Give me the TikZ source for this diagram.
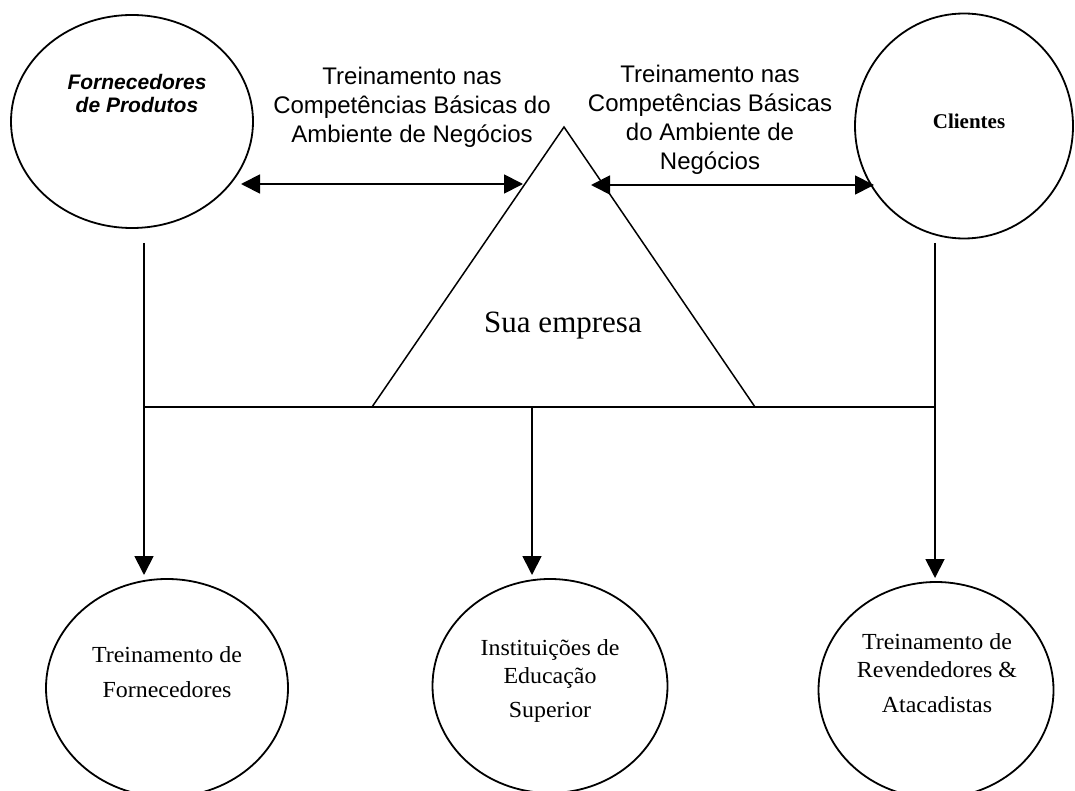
\documentclass[tikz,border=0pt]{standalone}
\usepackage{fontspec}
\setmainfont{Liberation Serif}
\newfontfamily\sansf{Liberation Sans}
\newfontfamily\serifwide[FakeStretch=1.04]{Liberation Serif}
\usetikzlibrary{shapes.geometric,arrows.meta}

\begin{document}
\begin{tikzpicture}[x=1pt,y=-1pt,line width=1.8pt,
  bubble/.style={draw,ellipse,inner sep=0pt},
  lbl/.style={align=center,inner sep=0pt},
  headtip/.style={-{Triangle[length=19pt,width=19pt]}},
  bothtips/.style={{Triangle[length=19pt,width=19pt]}-{Triangle[length=19pt,width=19pt]}},
  bottomtext/.style={lbl,font=\serifwide\fontsize{23}{28}\selectfont},
  arrowtext/.style={lbl,font=\sansf\fontsize{24}{29}\selectfont}]
\useasboundingbox (0,0) rectangle (1075,791);

% outer partners
\node[bubble,minimum width=242pt,minimum height=213pt] (forn) at (132,121.5) {};
\node[bubble,minimum width=218pt,minimum height=225pt] (cli) at (964,126) {};
\node[lbl,font=\sansf\bfseries\itshape\fontsize{21}{23}\selectfont] (fornT) at (137,94) {Fornecedores\\de Produtos};
\node[lbl,font=\bfseries\fontsize{21}{21}\selectfont] (cliT) at (969,121) {Clientes};

% the company in the middle
\coordinate (apex) at (564,127);
\coordinate (triL) at (372,407);
\coordinate (triR) at (755,407);
\draw[line width=1.5pt] (triL) -- (apex) -- (triR);
\node[lbl,font=\fontsize{31}{31}\selectfont] (sua) at (563,326) {Sua empresa};

% training labels over the two links
\node[arrowtext] (t1) at (412,107) {Treinamento nas\\Competências Básicas do\\Ambiente de Negócios};
\node[arrowtext] (t2) at (710,120) {Treinamento nas\\Competências Básicas\\do Ambiente de\\Negócios};

% two-way links
\coordinate (l1) at (241,184);
\coordinate (l2) at (523,184);
\coordinate (r1) at (591,185);
\coordinate (r2) at (874,185);
\draw[bothtips] (l1) -- (l2);
\draw[bothtips] (r1) -- (r2);

% distribution bus
\coordinate (vlTop) at (144,243);
\coordinate (vlEnd) at (144,575);
\coordinate (vrTop) at (935,243);
\coordinate (vrEnd) at (935,578);
\coordinate (busL) at (144,407);
\coordinate (busR) at (935,407);
\coordinate (vmTop) at (532,407);
\coordinate (vmEnd) at (532,575);
\draw (busL) -- (busR);
\draw[headtip] (vlTop) -- (vlEnd);
\draw[headtip] (vrTop) -- (vrEnd);
\draw[headtip] (vmTop) -- (vmEnd);

% training targets
\node[bubble,minimum width=242pt,minimum height=218pt] (tf) at (167,688) {};
\node[bubble,minimum width=235pt,minimum height=214pt] (ies) at (550,686) {};
\node[bubble,minimum width=235pt,minimum height=216pt] (trev) at (936,690) {};
\node[bottomtext] (tfT) at (167,672) {Treinamento de\\[7pt]Fornecedores};
\node[bottomtext] (iesT) at (550,681) {Instituições de\\Educação\\[6pt]Superior};
\node[bottomtext] (trevT) at (937,673) {Treinamento de\\Revendedores \&\\[7pt]Atacadistas};
\end{tikzpicture}
\end{document}
